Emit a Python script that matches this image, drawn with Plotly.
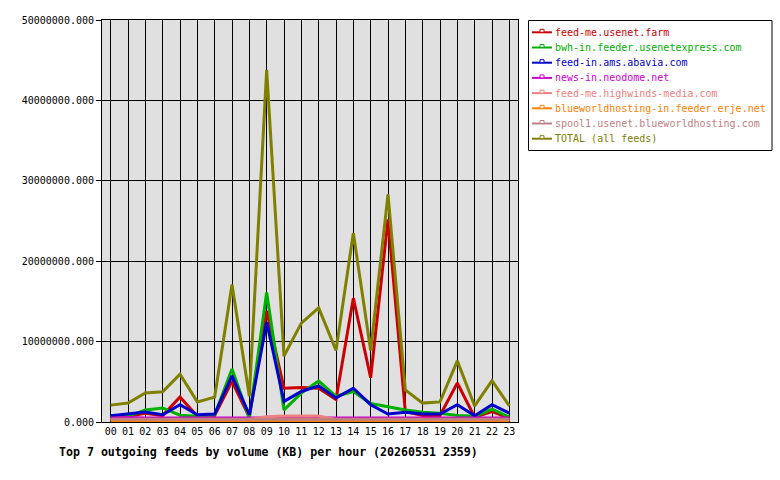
import plotly.graph_objects as go

hours = ["%02d" % h for h in range(24)]

feed_me_usenet_farm = [0.6e6, 0.7e6, 1.1e6, 0.8e6, 3.1e6, 0.7e6, 0.8e6, 5.05e6, 0.6e6, 13.8e6, 4.2e6, 4.3e6,
                       4.2e6, 2.8e6, 15.4e6, 5.5e6, 25.2e6, 1.3e6, 0.8e6, 0.8e6, 4.85e6, 0.6e6, 1.3e6, 0.5e6]
bwh_in = [0.6e6, 0.7e6, 1.5e6, 1.75e6, 0.85e6, 0.7e6, 0.9e6, 6.6e6, 0.5e6, 16.1e6, 1.5e6, 3.6e6,
          5.1e6, 3.2e6, 3.8e6, 2.3e6, 1.9e6, 1.5e6, 1.2e6, 1.1e6, 0.8e6, 0.7e6, 1.6e6, 0.6e6]
feed_in_ams = [0.78e6, 1.0e6, 1.25e6, 0.9e6, 2.15e6, 0.9e6, 1.0e6, 5.75e6, 0.9e6, 12.4e6, 2.56e6, 3.8e6,
               4.5e6, 3.0e6, 4.2e6, 2.15e6, 1.0e6, 1.2e6, 1.0e6, 1.0e6, 2.15e6, 0.78e6, 2.15e6, 1.1e6]
news_in_neodome = [0.5e6, 0.55e6, 0.5e6, 0.5e6, 0.5e6, 0.5e6, 0.55e6, 0.55e6, 0.55e6, 0.5e6, 0.5e6, 0.5e6,
                   0.5e6, 0.55e6, 0.55e6, 0.55e6, 0.55e6, 0.55e6, 0.5e6, 0.5e6, 0.5e6, 0.5e6, 0.5e6, 0.5e6]
feed_me_highwinds = [0.3e6, 0.3e6, 0.3e6, 0.3e6, 0.3e6, 0.3e6, 0.3e6, 0.3e6, 0.3e6, 0.65e6, 0.75e6, 0.75e6,
                     0.75e6, 0.3e6, 0.3e6, 0.3e6, 0.3e6, 0.3e6, 0.3e6, 0.3e6, 0.3e6, 0.3e6, 0.3e6, 0.3e6]
blueworldhosting_in = [0.2e6] * 24
spool1 = [0.35e6] * 24
total = [2.1e6, 2.35e6, 3.6e6, 3.75e6, 5.95e6, 2.5e6, 3.1e6, 17.1e6, 3.2e6, 43.8e6, 8.2e6, 12.3e6,
         14.2e6, 8.9e6, 23.5e6, 8.9e6, 28.3e6, 4.0e6, 2.35e6, 2.5e6, 7.6e6, 2.0e6, 5.15e6, 2.0e6]

names = ["feed-me.usenet.farm", "bwh-in.feeder.usenetexpress.com", "feed-in.ams.abavia.com",
         "news-in.neodome.net", "feed-me.highwinds-media.com", "blueworldhosting-in.feeder.erje.net",
         "spool1.usenet.blueworldhosting.com", "TOTAL (all feeds)"]
values = [feed_me_usenet_farm, bwh_in, feed_in_ams, news_in_neodome, feed_me_highwinds,
          blueworldhosting_in, spool1, total]
colors = ["#cc0000", "#00b000", "#0000cc", "#cc00cc", "#f08080", "#ff8000", "#c08080", "#808000"]

yticks = [0, 10e6, 20e6, 30e6, 40e6, 50e6]
ytick_text = ["%.3f" % v for v in yticks]

MONO = "DejaVu Sans Mono"

# plot area geometry in pixels
L, R, T, B = 102, 518, 20, 422
W, H = R - L, B - T


def px(x):
    return (x - L) / W


def py(y):
    return (B - y) / H


fig = go.Figure()
for name, vals, col in zip(names, values, colors):
    fig.add_trace(go.Scatter(
        x=list(range(24)), y=vals, mode="lines", name=name,
        line=dict(color=col, width=3), showlegend=False,
    ))

shapes = []
annotations = []
# legend box
shapes.append(dict(type="rect", xref="paper", yref="paper",
                   x0=px(528.5), x1=px(772), y0=py(20.5), y1=py(150.5),
                   line=dict(color="black", width=1), fillcolor="white", layer="above"))
for i, (name, col) in enumerate(zip(names, colors)):
    yc = 32.3 + i * 15.2
    shapes.append(dict(type="line", xref="paper", yref="paper",
                       x0=px(532), x1=px(552), y0=py(yc), y1=py(yc),
                       line=dict(color=col, width=2), layer="above"))
    shapes.append(dict(type="rect", xref="paper", yref="paper",
                       x0=px(540), x1=px(544), y0=py(yc), y1=py(yc - 3),
                       line=dict(color=col, width=1), fillcolor="white", layer="above"))
    annotations.append(dict(text=name, xref="paper", yref="paper", x=px(553), xanchor="left",
                            y=py(yc), yanchor="middle", showarrow=False,
                            font=dict(family=MONO, size=10, color=col)))

annotations.append(dict(
    text="<b>Top 7 outgoing feeds by volume (KB) per hour (20260531 2359)</b>",
    xref="paper", yref="paper", x=px(57), xanchor="left",
    y=py(452), yanchor="middle", showarrow=False,
    font=dict(family=MONO, size=11.6, color="black"),
))

fig.update_layout(
    width=780, height=480,
    margin=dict(l=L, r=780 - R, t=T, b=480 - B),
    paper_bgcolor="white", plot_bgcolor="#e0e0e0",
    font=dict(family=MONO, size=10, color="black"),
    showlegend=False,
    xaxis=dict(
        range=[-0.5, 23.5], tickmode="array", tickvals=list(range(24)), ticktext=hours,
        showgrid=True, gridcolor="black", gridwidth=1, zeroline=False,
        showline=True, linecolor="black", linewidth=1, mirror=True,
        ticks="", tickfont=dict(family=MONO, size=10),
    ),
    yaxis=dict(
        range=[0, 50e6], tickmode="array", tickvals=yticks, ticktext=ytick_text,
        showgrid=True, gridcolor="black", gridwidth=1, zeroline=False,
        showline=True, linecolor="black", linewidth=1, mirror=True,
        ticks="outside", ticklen=5, tickcolor="black", tickfont=dict(family=MONO, size=10),
    ),
    shapes=shapes,
    annotations=annotations,
)

fig.write_html("out.html")
